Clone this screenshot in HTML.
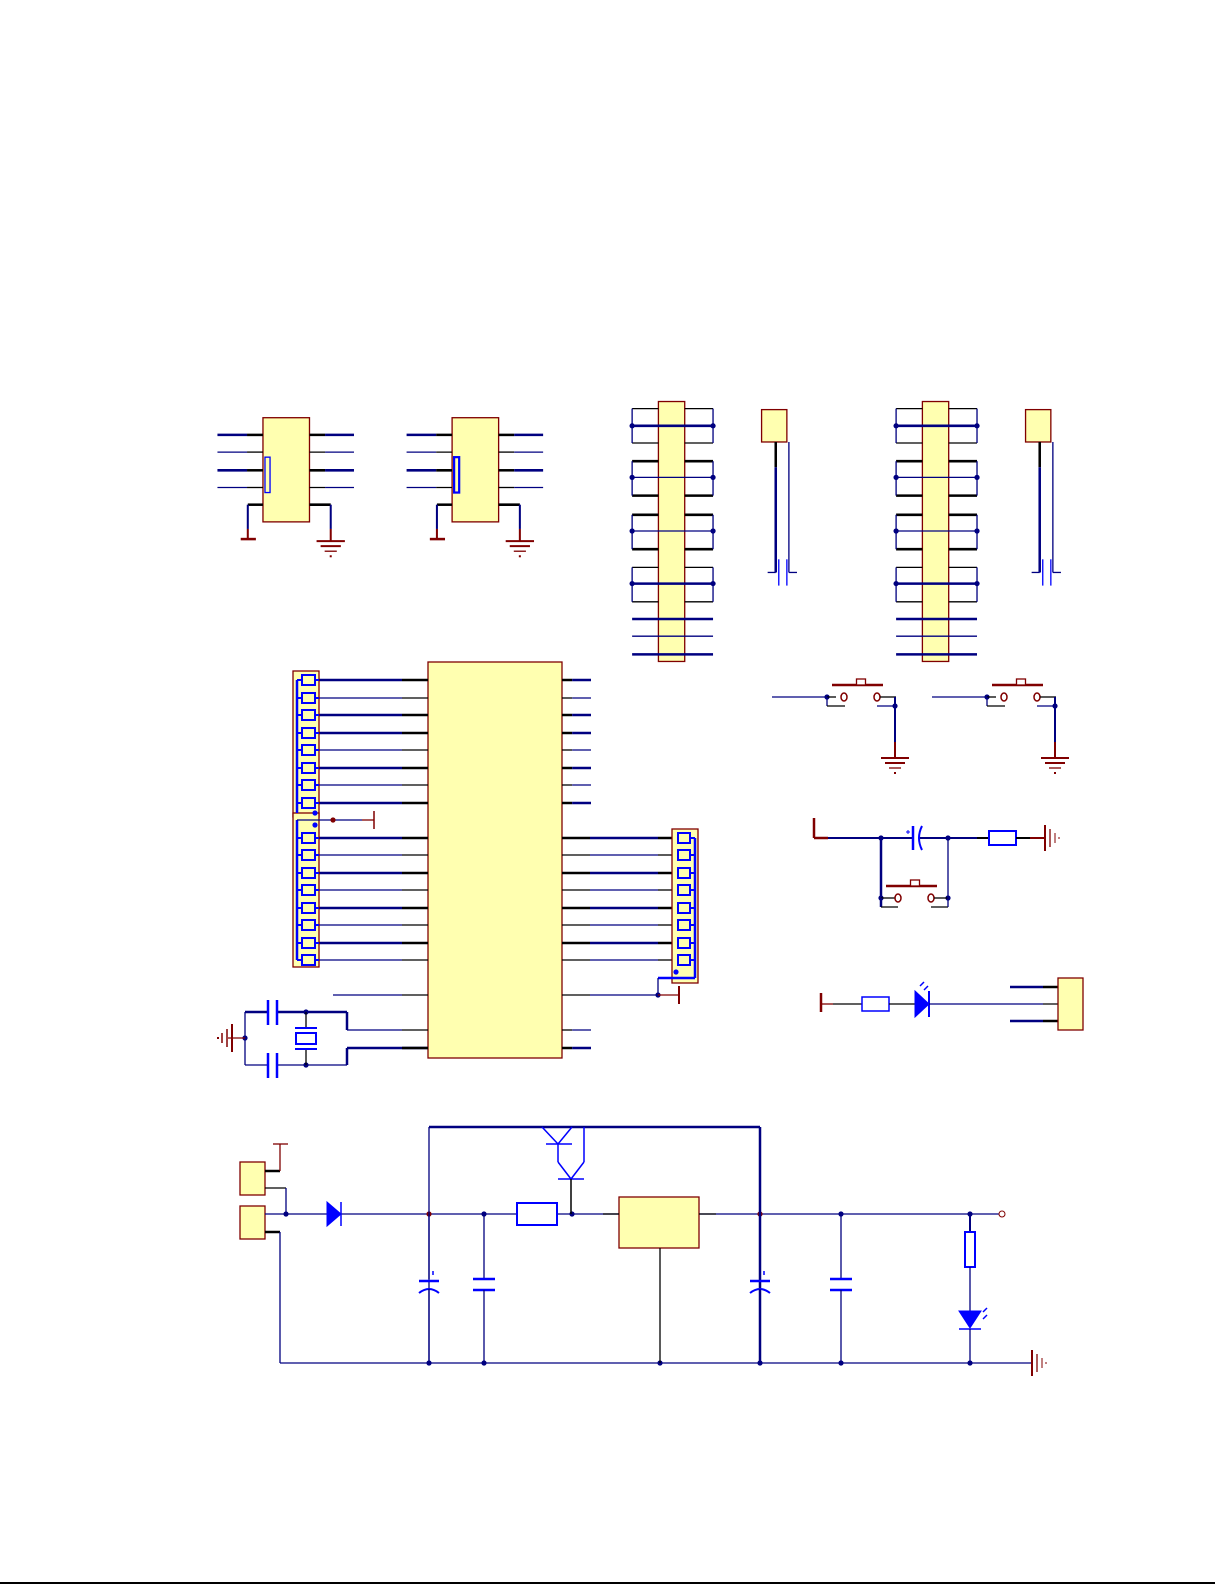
<!DOCTYPE html>
<html><head><meta charset="utf-8"><style>
html,body{margin:0;padding:0;background:#fff;}
svg{display:block}
</style></head><body>
<svg id="s" xmlns="http://www.w3.org/2000/svg" width="1225" height="1585" viewBox="0 0 1225 1585">
<line x1="0" y1="1583" x2="1215" y2="1583" stroke="#000" stroke-width="2"/>
<g id="g" transform="scale(1.0114)"></g>
</svg>
<script>
const s0=document.getElementById('s');const G=document.getElementById('g');const NS='http://www.w3.org/2000/svg';
let par=G;
function el(t,a){const e=document.createElementNS(NS,t);for(const k in a)e.setAttribute(k,a[k]);par.appendChild(e);return e;}
const B='#000080',BK='#000',R='#800000',Y='#ffffb0',BL='#0000ff';
function L(x1,y1,x2,y2,c,w){el('line',{x1,y1,x2,y2,stroke:c||B,'stroke-width':w||1.3});}
function P(d,c,w,f){el('path',{d,stroke:c||B,'stroke-width':w||1.3,fill:f||'none'});}
function box(x,y,w,h){el('rect',{x,y,width:w,height:h,fill:Y,stroke:R,'stroke-width':1.3});}
function dot(x,y,c){el('circle',{cx:x,cy:y,r:2.6,fill:c||B});}
function gnd(x,y){L(x-14,y,x+14,y,R,2);L(x-10,y+5,x+10,y+5,R,2);L(x-6,y+10,x+6,y+10,R,1.3);L(x-1,y+15,x+1,y+15,R,2);}
function gndV(x,y){L(x,y-13,x,y+13,R,2);L(x+5,y-9,x+5,y+9,R,1.3);L(x+10,y-5,x+10,y+5,R,1);L(x+14,y-1,x+14,y+1,R,1);}
function gndVL(x,y){L(x,y-14,x,y+14,R,2);L(x-5,y-9,x-5,y+9,R,1.5);L(x-10,y-5,x-10,y+5,R,1.5);L(x-14,y-1,x-14,y+1,R,2);}
function pin(x1,x2,y,dir,thick){const w=thick?2.5:1.3;const m=dir>0?x1+(x2-x1)*0.35:x1+(x2-x1)*0.65;
 if(dir>0){L(x1,y,m,y,BK,w);L(m,y,x2,y,B,w);}else{L(x1,y,m,y,B,w);L(m,y,x2,y,BK,w);}}

// ===== scaled group (displayed coords) =====
[0,187].forEach(o=>{
 box(260+o,413,46,103);
 [430,447,465,482].forEach((y,i)=>{pin(215+o,260+o,y,-1,i%2==0);pin(306+o,350+o,y,1,i%2==0);});
 el('rect',{x:262+o,y:452,width:5,height:35,fill:'none',stroke:BL,'stroke-width':o?2.2:1.3});
 L(245+o,499,260+o,499,BK,2.5);L(245+o,499,245+o,523,B,2);L(245+o,523,245+o,533,R,2);L(238+o,533,253+o,533,R,2.5);
 L(306+o,499,327+o,499,BK,2.5);L(327+o,499,327+o,523,B,2);L(327+o,523,327+o,535,R,2);gnd(327+o,535);
});
[0,261].forEach(o=>{
 box(651+o,397,26,257);
 const pairs=[[404,438,421,0],[456,490,472,1],[509,543,525,1],[561,595,577,0]];
 pairs.forEach(([a,b,m,t])=>{const w=t?2.5:1.3;
  L(625+o,a,651+o,a,BK,w);L(677+o,a,705+o,a,BK,w);L(625+o,b,651+o,b,BK,w);L(677+o,b,705+o,b,BK,w);
  L(625+o,a,625+o,b,B,1.3);L(705+o,a,705+o,b,B,1.3);L(625+o,m,705+o,m,B,t?1.3:2.5);dot(625+o,m);dot(705+o,m);});
 L(625+o,612,705+o,612,B,2.5);L(625+o,629,705+o,629,B,1.3);L(625+o,647,705+o,647,B,2.5);
 box(753+o,405,25,32);
 L(767+o,437,767+o,462,BK,2.5);L(767+o,462,767+o,566,B,2.5);L(780+o,437,780+o,566,B,1.3);
 L(759+o,566,767+o,566,B,1.3);L(780+o,566,788+o,566,B,1.3);L(770+o,553,770+o,579,BL,1.3);L(778+o,553,778+o,579,BL,1.3);
});

// ===== true coords =====
par=s0;
box(428,662,134,396);
const lp=[680,698,715,733,750,768,785,803],lp2=[838,855,873,890,908,925,943,960];
lp.forEach((y,i)=>{const t=[0,2,3,5,7].includes(i);L(319,y,402,y,B,t?2.5:1.3);L(402,y,428,y,BK,t?2.5:1.3);pin(562,591,y,1,t);});
lp2.forEach((y,i)=>{const t=i%2==0;L(319,y,402,y,B,t?2.5:1.3);L(402,y,428,y,BK,t?2.5:1.3);
 L(562,y,590,y,BK,t?2.5:1.3);L(590,y,658,y,B,t?2.5:1.3);L(658,y,672,y,BK,t?2.5:1.3);});
box(293,671,26,146);box(293,813,26,154);
[...lp,...lp2].forEach(y=>{el('rect',{x:302,y:y-5,width:13,height:10,fill:Y,stroke:BL,'stroke-width':2});L(297,y,302,y,BL,2);L(315,y,319,y,BL,2);});
L(297,680,297,813,BL,2.5);L(297,820,297,960,BL,2.5);
dot(315,813,BL);dot(315,825,BL);
L(297,820,362,820,B,1.3);dot(333,820,R);L(362,820,374,820,R,1.3);L(374,811,374,829,R,1.5);
box(672,829,26,154);
lp2.forEach(y=>{el('rect',{x:678,y:y-5,width:12,height:10,fill:Y,stroke:BL,'stroke-width':2});L(690,y,695,y,BL,2);});
L(695,838,695,978,BL,2.5);L(658,978,695,978,BL,2.5);dot(676,972,BL);
L(658,978,658,995,B,1.3);
L(562,995,590,995,BK,1.3);L(590,995,658,995,B,1.3);dot(658,995);L(658,995,679,995,R,1.3);L(679,986,679,1004,R,2);
L(333,995,402,995,B,1.3);L(402,995,428,995,BK,1.3);
L(347,1030,402,1030,B,1.3);L(402,1030,428,1030,BK,1.3);
L(347,1048,428,1048,B,2.5);L(402,1048,428,1048,BK,2.5);
pin(562,591,1030,1,false);pin(562,591,1048,1,true);
L(245,1012,268,1012,B,2.5);L(277,1012,347,1012,B,2.5);L(347,1012,347,1030,B,2.5);
L(245,1065,268,1065,B,1.3);L(277,1065,347,1065,B,1.3);L(347,1065,347,1048,B,2.5);
L(268,1000,268,1025,BL,2.5);L(277,1000,277,1025,BL,2.5);L(268,1053,268,1078,BL,2.5);L(277,1053,277,1078,BL,2.5);
L(245,1012,245,1065,B,1.3);dot(245,1038);L(228,1038,245,1038,R,1.3);gndVL(232,1038);
dot(306,1012);dot(306,1065);L(306,1012,306,1028,BK,1.3);L(306,1049,306,1065,BK,1.3);
L(295,1028,317,1028,BL,2);L(295,1049,317,1049,BL,2);el('rect',{x:296,y:1033,width:20,height:11,fill:'none',stroke:BL,'stroke-width':2});
function btn(x1,x2,y){
 L(x1-12,y-12,x2+6,y-12,R,2.5);el('rect',{x:(x1+x2)/2-4,y:y-18,width:9,height:6,fill:'#fff',stroke:R,'stroke-width':1.3});
 el('ellipse',{cx:x1,cy:y,rx:3,ry:4,fill:'#fff',stroke:R,'stroke-width':1.5});el('ellipse',{cx:x2,cy:y,rx:3,ry:4,fill:'#fff',stroke:R,'stroke-width':1.5});}
[0,160].forEach(o=>{
 L(772+o,697,827+o,697,B,1.3);dot(827+o,697);L(827+o,697,836+o,697,BK,1.3);L(827+o,697,827+o,706,B,1.3);L(827+o,706,845+o,706,BK,1.3);
 btn(844+o,877+o,697);L(880+o,697,896+o,697,BK,1.3);L(877+o,706,895+o,706,B,1.3);dot(895+o,706);
 L(895+o,697,895+o,742,B,2);L(895+o,742,895+o,758,R,2);gnd(895+o,758);});
L(814,818,814,838,R,2.5);L(814,838,828,838,R,2.5);L(828,838,912,838,B,2);dot(881,838);
L(913,826,913,850,BL,2.5);el('path',{d:'M922 826 Q916 838 922 850',stroke:BL,'stroke-width':2,fill:'none'});L(906,832,910,832,BL,1);L(908,830,908,834,BL,1);
L(920,838,977,838,B,2);dot(948,838);L(977,838,989,838,BK,2);el('rect',{x:989,y:831,width:27,height:14,fill:'#fff',stroke:BL,'stroke-width':2});
L(1016,838,1030,838,BK,2);L(1030,838,1045,838,R,2);gndV(1045,838);
L(881,838,881,898,B,2.5);dot(881,898);L(881,898,896,898,BK,1.3);L(881,898,881,907,B,2.5);L(881,907,898,907,BK,1.3);
btn(898,931,898);L(931,907,948,907,BK,1.3);dot(948,898);L(934,898,948,898,BK,1.3);L(948,838,948,907,B,1.3);
L(821,993,821,1012,R,2.5);L(821,1004,833,1004,R,1.3);L(833,1004,862,1004,BK,1.3);
el('rect',{x:862,y:997,width:27,height:14,fill:'#fff',stroke:BL,'stroke-width':1.5});L(889,1004,915,1004,BK,1.3);
P('M915 991 L929 1004 L915 1017 Z',BL,1,BL);L(929,991,929,1017,BL,2);L(920,986,924,982,BL,1.5);L(924,990,928,986,BL,1.5);
L(929,1004,1043,1004,B,1.3);L(1043,1004,1060,1004,BK,1.3);
L(1010,987,1043,987,B,2.5);L(1043,987,1060,987,BK,2.5);L(1010,1021,1043,1021,B,2.5);L(1043,1021,1060,1021,BK,2.5);
box(1058,978,25,52);
// ===== power section =====
box(240,1162,25,33);box(240,1206,25,33);
L(265,1171,280,1171,BK,2.5);L(280,1171,280,1144,R,1.3);L(273,1144,288,1144,R,1.3);
L(265,1188,286,1188,BK,1.3);L(286,1188,286,1214,B,1.3);dot(286,1214);
L(265,1214,1000,1214,B,1.3);
P('M327 1202 L341 1214 L327 1226 Z',BL,1,BL);L(341,1202,341,1226,BL,1.5);
L(265,1232,280,1232,BK,2.5);L(280,1232,280,1363,B,1.3);
el('circle',{cx:1002,cy:1214,r:3,fill:'#fff',stroke:R,'stroke-width':1});
L(280,1363,1032,1363,B,1.3);
[429,484,660,760,841,970].forEach(x=>dot(x,1363));
dot(429,1214,R);dot(484,1214);dot(572,1214);dot(760,1214,R);dot(841,1214);dot(970,1214);
L(429,1127,760,1127,B,2.5);
L(429,1127,429,1363,B,1.3);
L(760,1127,760,1363,B,2.5);
L(542,1127,558,1144,BL,1.5);L(546,1144,572,1144,BL,1.5);L(558,1144,572,1127,BL,1.5);
L(558,1144,558,1162,BL,1.5);L(584,1127,584,1162,BL,1.5);L(558,1162,571,1179,BL,1.5);L(584,1162,571,1179,BL,1.5);L(558,1179,584,1179,BL,1.5);
L(571,1179,571,1214,BK,1.5);
el('rect',{x:517,y:1203,width:40,height:22,fill:'#fff',stroke:BL,'stroke-width':2});
box(619,1197,80,51);L(603,1214,619,1214,BK,1.3);L(699,1214,716,1214,BK,1.3);L(660,1248,660,1363,BK,1.3);
function ecap(x){L(x,1214,x,1279,B,1.3);L(x-10,1281,x+10,1281,BL,2.5);P(`M${x-10} 1293 Q${x} 1285 ${x+10} 1293`,BL,2);L(x+4,1271,x+4,1275,BL,1.5);L(x,1289,x,1363,B,1.3);}
function cap(x){L(x,1214,x,1279,B,1.3);L(x-11,1279,x+11,1279,BL,2.5);L(x-11,1290,x+11,1290,BL,2.5);L(x,1290,x,1363,B,1.3);}
ecap(429);cap(484);ecap(760);cap(841);
L(970,1214,970,1232,B,2);el('rect',{x:965,y:1232,width:10,height:35,fill:'#fff',stroke:BL,'stroke-width':2});
L(970,1267,970,1311,B,1.3);P('M959 1311 L981 1311 L970 1328 Z',BL,1,BL);L(959,1329,981,1329,BL,1.5);L(983,1312,987,1308,BL,1.5);L(983,1319,987,1315,BL,1.5);
L(970,1329,970,1363,B,1.3);
gndV(1032,1363);
</script>
</body></html>
